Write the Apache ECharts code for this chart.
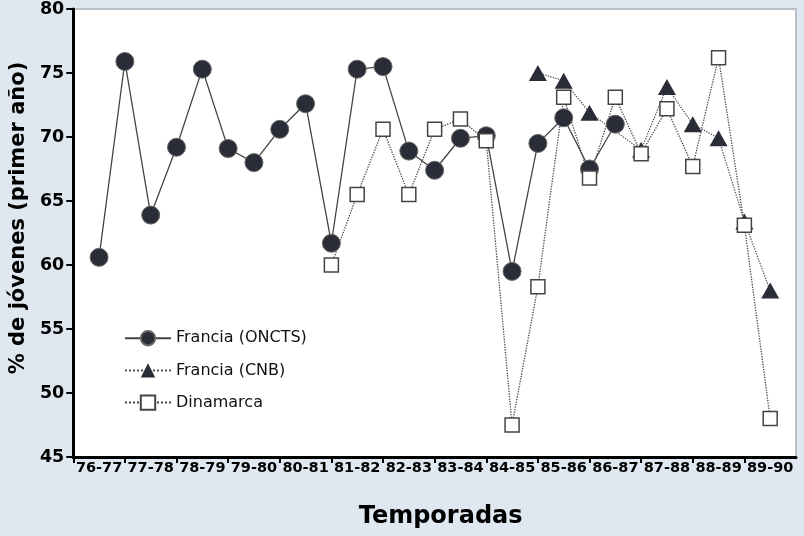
<!DOCTYPE html>
<html>
<head>
<meta charset="utf-8">
<script src="https://cdn.jsdelivr.net/npm/echarts@6/dist/echarts.min.js"></script>
<style>
html,body{margin:0;padding:0;background:#dfe8f0;}
#chart{width:804px;height:536px;}
</style>
</head>
<body>
<div id="chart"></div>
<script>
// Seasons (category tick labels)
const seasons = ['76-77','77-78','78-79','79-80','80-81','81-82','82-83','83-84','84-85','85-86','86-87','87-88','88-89','89-90'];

// Francia (ONCTS): x = season index (half steps), y = %
const oncX = [0,0.5,1,1.5,2,2.5,3,3.5,4,4.5,5,5.5,6,6.5,7,7.5,8,8.5,9,9.5,10];
const oncY = [60.6,75.9,63.9,69.2,75.3,69.1,68.0,70.6,72.6,61.7,75.3,75.5,68.9,67.4,69.9,70.1,59.5,69.5,71.5,67.5,71.0];

// Francia (CNB)
const cnbX = [8.5,9,9.5,10.5,11,11.5,12,12.5,13];
const cnbY = [75.0,74.4,71.9,69.0,73.9,71.0,69.9,63.4,58.0];

// Dinamarca
const dinX = [4.5,5,5.5,6,6.5,7,7.5,8,8.5,9,9.5,10,10.5,11,11.5,12,12.5,13];
const dinY = [60.0,65.5,70.6,65.5,70.6,71.4,69.7,47.5,58.3,73.1,66.8,73.1,68.7,72.2,67.7,76.2,63.1,48.0];

const yTicks = {min:45, max:80, step:5};

function pairs(xs, ys){ return xs.map((x,i)=>[x, ys[i]]); }

const chart = echarts.init(document.getElementById('chart'));
const font = 'DejaVu Sans, Verdana, sans-serif';
chart.setOption({
  backgroundColor:'#dfe8f0',
  animation:false,
  grid:{left:72, top:8, right:8, bottom:79, show:true, backgroundColor:'#ffffff', borderColor:'#b9c1c8', borderWidth:2},
  legend:{
    orient:'vertical', left:119, top:325, itemWidth:46, itemHeight:18, itemGap:16,
    textStyle:{fontFamily:font, fontSize:16, color:'#111'},
    data:['Francia (ONCTS)','Francia (CNB)','Dinamarca']
  },
  xAxis:[
    {type:'category', data:seasons, boundaryGap:true,
     axisLine:{onZero:false, lineStyle:{color:'#000', width:3}},
     axisTick:{show:true, interval:0, length:6, lineStyle:{color:'#000', width:2}},
     axisLabel:{interval:0, fontFamily:font, fontWeight:'bold', fontSize:14.5, color:'#000', margin:4},
     name:'Temporadas', nameLocation:'middle', nameGap:48,
     nameTextStyle:{fontFamily:font, fontWeight:'bold', fontSize:24, color:'#000', padding:[0,0,0,12]}},
    {type:'value', min:-0.5, max:13.5, show:false}
  ],
  yAxis:{
    type:'value', min:yTicks.min, max:yTicks.max, interval:yTicks.step,
    axisLine:{show:true, onZero:false, lineStyle:{color:'#000', width:3}},
    axisTick:{show:true, length:7, lineStyle:{color:'#000', width:2}},
    splitLine:{show:false},
    axisLabel:{fontFamily:font, fontWeight:'bold', fontSize:17.5, color:'#000', margin:9},
    name:'% de jóvenes (primer año)', nameLocation:'middle', nameGap:40,
    nameTextStyle:{fontFamily:font, fontWeight:'bold', fontSize:21, color:'#000', padding:[0,0,0,30]}
  },
  series:[
    {name:'Francia (ONCTS)', type:'line', xAxisIndex:1, data:pairs(oncX,oncY),
     symbol:'circle', symbolSize:18,
     itemStyle:{color:'#2a2d37', borderColor:'#666', borderWidth:1},
     lineStyle:{color:'#444', width:1.3, type:'solid'}},
    {name:'Francia (CNB)', type:'line', xAxisIndex:1, data:pairs(cnbX,cnbY),
     symbol:'triangle', symbolSize:[18,16],
     itemStyle:{color:'#2a2d37', borderColor:'#2a2d37', borderWidth:0},
     lineStyle:{color:'#555', width:1.3, type:'dotted'}},
    {name:'Dinamarca', type:'line', xAxisIndex:1, data:pairs(dinX,dinY),
     symbol:'rect', symbolSize:14,
     itemStyle:{color:'#ffffff', borderColor:'#444', borderWidth:1.5},
     lineStyle:{color:'#444', width:1.3, type:'dotted'}}
  ]
});
</script>
</body>
</html>
